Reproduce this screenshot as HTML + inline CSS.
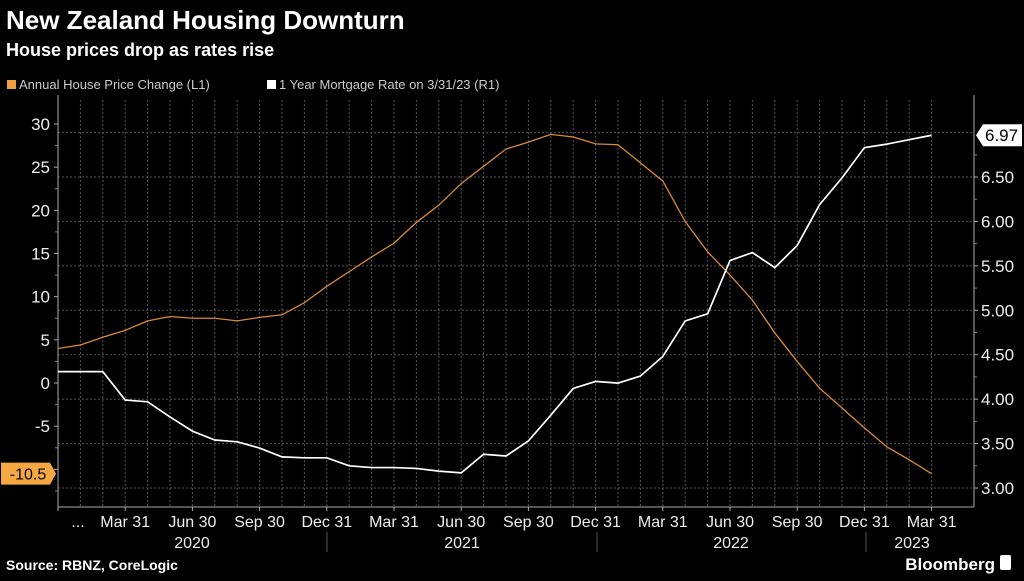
<!DOCTYPE html>
<html><head><meta charset="utf-8"><style>
body{margin:0;background:#000;width:1024px;height:576px;overflow:hidden;font-family:"Liberation Sans",sans-serif}
</style></head><body>
<svg width="1024" height="576" viewBox="0 0 1024 576" xmlns="http://www.w3.org/2000/svg">
<text x="6" y="29" fill="#fff" font-size="26" font-weight="bold">New Zealand Housing Downturn</text>
<text x="6" y="56" fill="#fff" font-size="18" font-weight="bold">House prices drop as rates rise</text>
<g font-size="13" fill="#ccc">
<rect x="7" y="80" width="9" height="9" fill="#f0a040"/>
<text x="19" y="89">Annual House Price Change (L1)</text>
<rect x="267" y="80" width="9" height="9" fill="#fff"/>
<text x="279" y="89">1 Year Mortgage Rate on 3/31/23 (R1)</text>
</g>
<g id="grid"></g>
<g id="axes"></g>
<g id="series"></g>
<text x="6" y="570" fill="#fff" font-size="14" font-weight="bold">Source: RBNZ, CoreLogic</text>
<text x="995" y="570" fill="#fff" font-size="17" font-weight="bold" text-anchor="end">Bloomberg</text>
<rect x="1000" y="555" width="11" height="15" rx="2" fill="#fff"/>
</svg>
<script>
const housePrice=[4.0,4.4,5.3,6.1,7.2,7.7,7.5,7.5,7.2,7.6,7.9,9.3,11.2,12.9,14.6,16.2,18.6,20.6,23.1,25.1,27.1,27.9,28.8,28.5,27.7,27.6,25.5,23.4,18.7,15.2,12.5,9.6,5.8,2.5,-0.6,-2.9,-5.2,-7.4,-8.9,-10.5];
const mortgage=[4.31,4.31,4.31,3.99,3.97,3.80,3.64,3.54,3.52,3.45,3.35,3.34,3.34,3.25,3.23,3.23,3.22,3.19,3.17,3.38,3.36,3.53,3.82,4.12,4.20,4.18,4.26,4.48,4.88,4.96,5.56,5.65,5.48,5.73,6.19,6.49,6.83,6.87,6.92,6.97];
const leftTicks=[30,25,20,15,10,5,0,-5,-10];
const rightTicks=[6.5,6.0,5.5,5.0,4.5,4.0,3.5,3.0];
const quarterLabels=["...","Mar 31","Jun 30","Sep 30","Dec 31","Mar 31","Jun 30","Sep 30","Dec 31","Mar 31","Jun 30","Sep 30","Dec 31","Mar 31"];
const years=["2020","2021","2022","2023"];
const NS="http://www.w3.org/2000/svg";
const X0=58,DX=22.4,XR=974,YT=100,YB=507;
const xS=i=>X0+DX*i;
const yL=v=>383-(v)*8.633;
const yR=v=>177-(v-6.5)*88.86;
function mk(t,a,p){const e=document.createElementNS(NS,t);for(const k in a)e.setAttribute(k,a[k]);p.appendChild(e);return e;}
const grid=document.getElementById('grid'),axes=document.getElementById('axes'),ser=document.getElementById('series');
const n=housePrice.length;
for(let i=1;i<n;i++){const l=mk('line',{x1:xS(i),x2:xS(i),y1:YT,y2:YB,stroke:'#555','stroke-dasharray':'2,2','stroke-width':1},grid);

}
[7.0].concat(rightTicks).forEach(v=>{const l=mk('line',{x1:X0,x2:XR,y1:yR(v),y2:yR(v),stroke:'#555','stroke-dasharray':'2,2','stroke-width':1},grid);

});
let a=mk('line',{x1:X0,x2:X0,y1:YT-5,y2:YB,stroke:'#aaa'},axes);


a=mk('line',{x1:XR,x2:XR,y1:YT-5,y2:YB,stroke:'#aaa'},axes);


a=mk('line',{x1:X0,x2:XR,y1:YB,y2:YB,stroke:'#aaa'},axes);


leftTicks.forEach(v=>{const t=mk('text',{x:X0-8,y:yL(v)+6,fill:'#eee','font-size':17,'text-anchor':'end'},axes);t.textContent=v;


mk('line',{x1:X0-4,x2:X0,y1:yL(v),y2:yL(v),stroke:'#aaa'},axes);
mk('line',{x1:X0-3,x2:X0,y1:yL(v-2.5),y2:yL(v-2.5),stroke:'#888'},axes);});
rightTicks.forEach(v=>{const t=mk('text',{x:XR+7,y:yR(v)+6,fill:'#eee','font-size':17},axes);t.textContent=v.toFixed(2);


mk('line',{x1:XR,x2:XR+4,y1:yR(v),y2:yR(v),stroke:'#aaa'},axes);
mk('line',{x1:XR,x2:XR+3,y1:yR(v+0.25),y2:yR(v+0.25),stroke:'#888'},axes);});
quarterLabels.forEach((s,q)=>{const i=q*3;const t=mk('text',{x:q==0?X0+20:xS(i),y:527,fill:'#eee','font-size':16,'text-anchor':'middle'},axes);t.textContent=s;


mk('line',{x1:xS(i),x2:xS(i),y1:YB,y2:YB+4,stroke:'#aaa'},axes);});
const yearX=[192,462,731,912];
years.forEach((s,k)=>{const t=mk('text',{x:yearX[k],y:548,fill:'#eee','font-size':16,'text-anchor':'middle'},axes);t.textContent=s;

});
[327,597,866].forEach(x=>mk('line',{x1:x,x2:x,y1:532,y2:552,stroke:'#555'},axes));
let p=mk('polyline',{points:housePrice.map((v,i)=>xS(i)+','+yL(v)).join(' '),fill:'none',stroke:'#d98a3a','stroke-width':1.3},ser);


p=mk('polyline',{points:mortgage.map((v,i)=>xS(i)+','+yR(v)).join(' '),fill:'none',stroke:'#fff','stroke-width':1.7},ser);


const lv=housePrice[n-1],ly=yL(lv);
let b=mk('polygon',{points:`1,${ly-11} 50,${ly-11} 56,${ly} 50,${ly+11} 1,${ly+11}`,fill:'#f5a742'},ser);


let t=mk('text',{x:28,y:ly+6,fill:'#000','font-size':16,'text-anchor':'middle'},ser);t.textContent=lv;


const rv=mortgage[n-1],ry=yR(rv);
b=mk('polygon',{points:`${XR+2},${ry} ${XR+9},${ry-11} 1022,${ry-11} 1022,${ry+11} ${XR+9},${ry+11}`,fill:'#fff'},ser);


t=mk('text',{x:XR+11,y:ry+6,fill:'#000','font-size':17},ser);t.textContent=rv.toFixed(2);


</script>
</body></html>
